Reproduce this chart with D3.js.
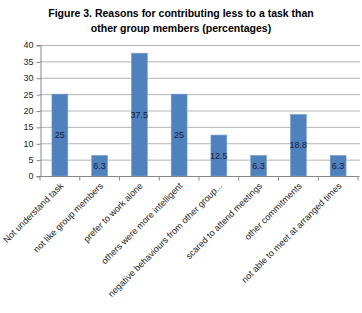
<!DOCTYPE html>
<html>
<head>
<meta charset="utf-8">
<script src="https://cdn.jsdelivr.net/npm/d3@7"></script>
<style>
body { margin: 0; background: #fff; }
svg { font-family: "Liberation Sans", Arial, sans-serif; }
</style>
</head>
<body>
<div id="chart"></div>
<script>
var categories = ["Not understand task", "not like group members", "prefer to work alone",
    "others were more intelligent", "negative behaviours from other group...",
    "scared to attend meetings", "other commitments", "not able to meet at arranged times"];
var values = [25, 6.3, 37.5, 25, 12.5, 6.3, 18.8, 6.3];
var yTicks = [0, 5, 10, 15, 20, 25, 30, 35, 40];
var titleLines = ["Figure 3. Reasons for contributing less to a task than", "other group members (percentages)"];

var width = 362, height = 313;
var margin = {left: 40, right: 4, top: 45, bottom: 137};

var svg = d3.select("#chart").append("svg")
    .attr("width", width)
    .attr("height", height);

svg.selectAll(".title")
    .data(titleLines)
    .join("text")
    .attr("x", 181)
    .attr("y", (d, i) => 17 + i * 15)
    .attr("text-anchor", "middle")
    .style("font-weight", "bold")
    .style("font-size", "10.5px")
    .attr("fill", "#000")
    .text(d => d);

var x = d3.scaleBand()
    .domain(categories)
    .range([margin.left, 358])
    .paddingInner(0.6)
    .paddingOuter(0.3);

var y = d3.scaleLinear()
    .domain([0, 40])
    .range([height - margin.bottom, margin.top]);

// gridlines
svg.append("g")
    .selectAll("line")
    .data(yTicks)
    .join("line")
    .attr("x1", margin.left)
    .attr("x2", 360)
    .attr("y1", d => y(d) + 0.5)
    .attr("y2", d => y(d) + 0.5)
    .attr("stroke", "#b3b3b3")
    .attr("stroke-width", 1);

// y axis
var yAxis = svg.append("g")
    .attr("transform", `translate(${margin.left + 0.5},0)`)
    .call(d3.axisLeft(y).tickValues(yTicks).tickSize(4).tickPadding(3));
yAxis.select(".domain").attr("stroke", "#888");
yAxis.selectAll(".tick line").attr("stroke", "#888").attr("transform", "translate(0,0.5)");
yAxis.selectAll(".tick text").style("font-size", "9px").attr("fill", "#222");

// bars
svg.append("g")
    .selectAll("rect")
    .data(values)
    .join("rect")
    .attr("x", (d, i) => x(categories[i]))
    .attr("y", d => y(d))
    .attr("width", x.bandwidth())
    .attr("height", d => y(0) - y(d))
    .attr("fill", "#4f81bd")
    .attr("stroke", "#7da1d0")
    .attr("stroke-width", 0.6);

// value labels
svg.append("g")
    .selectAll("text")
    .data(values)
    .join("text")
    .attr("x", (d, i) => x(categories[i]) + x.bandwidth() / 2)
    .attr("y", d => (y(d) + y(0)) / 2 + 3)
    .attr("text-anchor", "middle")
    .style("font-size", "9px")
    .attr("fill", "#1a1a40")
    .text(d => d);

// x axis
var step = x.step();
var xAxis = svg.append("g")
    .attr("transform", `translate(0,${y(0) + 0.5})`);
xAxis.append("line")
    .attr("x1", margin.left)
    .attr("x2", 358)
    .attr("stroke", "#888");
xAxis.selectAll(".tk")
    .data(d3.range(categories.length + 1))
    .join("line")
    .attr("x1", d => margin.left + d * (318 / categories.length))
    .attr("x2", d => margin.left + d * (318 / categories.length))
    .attr("y1", 0)
    .attr("y2", 4)
    .attr("stroke", "#888");

xAxis.selectAll(".lbl")
    .data(categories)
    .join("text")
    .attr("transform", d => `translate(${x(d) + x.bandwidth() / 2 + 4},10) rotate(-45)`)
    .attr("text-anchor", "end")
    .style("font-size", "9px")
    .attr("fill", "#222")
    .text(d => d);
</script>
</body>
</html>
